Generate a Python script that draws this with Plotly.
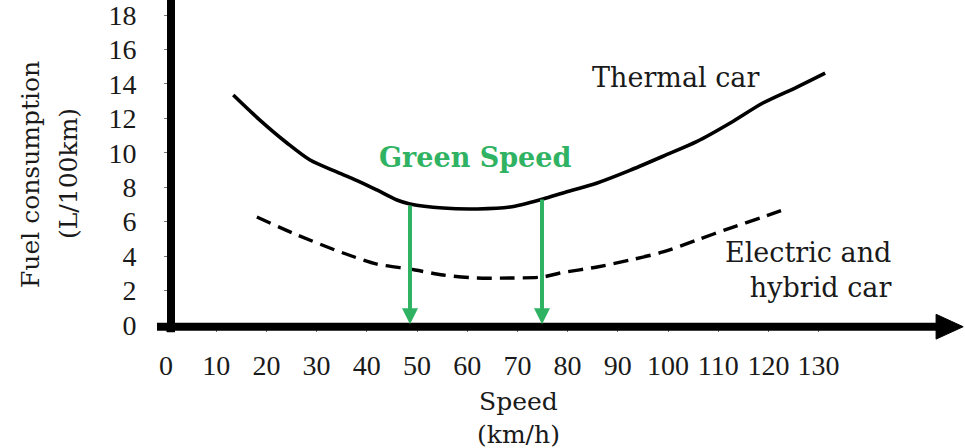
import plotly.graph_objects as go

# ---------------- data ----------------
x_ticks = [0, 10, 20, 30, 40, 50, 60, 70, 80, 90, 100, 110, 120, 130]
x_tick_labels = [str(v) for v in x_ticks]
y_ticks = [0, 2, 4, 6, 8, 10, 12, 14, 16, 18]
y_tick_labels = [str(v) for v in y_ticks]

thermal_speed = [13.4, 18.7, 24.1, 28.7, 34.1, 38.7, 42.0, 46.0, 48.6, 55.2, 62.0,
                 68.5, 75.1, 79.1, 85.9, 92.4, 99.0, 105.8, 112.4, 118.9, 125.7, 131.3]
thermal_fuel = [13.36, 11.90, 10.57, 9.58, 8.88, 8.30, 7.84, 7.26, 7.03, 6.79, 6.74,
                6.85, 7.32, 7.67, 8.25, 8.98, 9.80, 10.66, 11.73, 12.89, 13.82, 14.63]

electric_speed = [18.1, 26.1, 35.3, 42.0, 48.6, 55.2, 62.0, 68.5, 75.1, 78.5, 85.9,
                  92.4, 99.0, 105.8, 112.4, 118.9, 122.9]
electric_fuel = [6.27, 5.23, 4.18, 3.54, 3.25, 2.90, 2.73, 2.73, 2.79, 3.02, 3.37,
                 3.77, 4.24, 4.94, 5.63, 6.27, 6.68]

green_speed_bounds = [48.6, 74.9]
green_speed_tops = [7.03, 7.38]

# ---------------- styling ----------------
FONT = "DejaVu Serif"
TICK_FONT = "Liberation Serif"
INK = "#1a1a1a"
GREEN = "#2fb363"
W, H = 965, 448
X_RANGE = [-33.07, 159.16]
Y_RANGE = [-7.143, 18.873]

fig = go.Figure()

fig.add_trace(go.Scatter(
    x=thermal_speed, y=thermal_fuel, mode="lines",
    line=dict(color="black", width=3.6, shape="spline", smoothing=0.8),
    hoverinfo="skip", showlegend=False))

fig.add_trace(go.Scatter(
    x=electric_speed, y=electric_fuel, mode="lines",
    line=dict(color="black", width=3.4, shape="spline", smoothing=0.8, dash="15px,8px"),
    hoverinfo="skip", showlegend=False))

shapes = []
# y axis (thick)
shapes.append(dict(type="line", xref="paper", yref="y", x0=171 / W, x1=171 / W,
                   y0=-0.42, y1=19.5, line=dict(color="black", width=8), layer="above"))
# x axis (thick) + arrow head
shapes.append(dict(type="line", xref="x", yref="y", x0=-1.8, x1=154.0, y0=-0.1, y1=-0.1,
                   line=dict(color="black", width=8), layer="above"))
shapes.append(dict(type="path", xref="x", yref="y",
                   path="M 153.4,0.62 L 158.8,-0.1 L 153.4,-0.82 Z",
                   fillcolor="black", line=dict(color="black", width=1), layer="above"))

annotations = []
for xs, yt in zip(green_speed_bounds, green_speed_tops):
    annotations.append(dict(x=xs, y=0.05, ax=xs, ay=yt, xref="x", yref="y",
                            axref="x", ayref="y", text="", showarrow=True,
                            arrowhead=2, arrowsize=0.8, arrowwidth=4, arrowcolor=GREEN,
                            standoff=0, startstandoff=0))

annotations += [
    dict(x=84.5, y=14.4, xref="x", yref="y", text="Thermal car", showarrow=False,
         xanchor="left", yanchor="middle", font=dict(family=FONT, size=27, color=INK)),
    dict(x=61.6, y=9.7, xref="x", yref="y", text="<b>Green Speed</b>", showarrow=False,
         xanchor="center", yanchor="middle", font=dict(family=FONT, size=27, color=GREEN)),
    dict(x=144.8, y=3.22, xref="x", yref="y", text="Electric and<br>hybrid car",
         showarrow=False, xanchor="right", yanchor="middle", align="right",
         font=dict(family=FONT, size=27, color=INK)),
    dict(x=518 / W, y=(H - 418) / H, xref="paper", yref="paper", text="Speed<br>(km/h)",
         showarrow=False, xanchor="center", yanchor="middle", align="center",
         font=dict(family=FONT, size=25, color=INK)),
    dict(x=30 / W, y=(H - 175) / H, xref="paper", yref="paper", text="Fuel consumption",
         textangle=-90, showarrow=False, xanchor="center", yanchor="middle",
         font=dict(family=FONT, size=25, color=INK)),
    dict(x=69 / W, y=(H - 174) / H, xref="paper", yref="paper", text="(L/100km)",
         textangle=-90, showarrow=False, xanchor="center", yanchor="middle",
         font=dict(family=FONT, size=25, color=INK)),
]

fig.update_layout(
    width=W, height=H, autosize=False,
    margin=dict(l=0, r=0, t=0, b=0, pad=0),
    paper_bgcolor="white", plot_bgcolor="white",
    shapes=shapes, annotations=annotations, showlegend=False,
    xaxis=dict(range=X_RANGE, anchor="free", position=(H - 325) / H,
               showgrid=False, zeroline=False, showline=False,
               tickmode="array", tickvals=x_ticks, ticktext=x_tick_labels,
               ticks="outside", ticklen=6, tickwidth=1.2, tickcolor="#777",
               ticklabelstandoff=9, ticklabeloverflow="allow",
               tickfont=dict(family=TICK_FONT, size=28, color=INK), fixedrange=True),
    yaxis=dict(range=Y_RANGE, anchor="free", position=171 / W,
               showgrid=False, zeroline=False, showline=False,
               tickmode="array", tickvals=y_ticks, ticktext=y_tick_labels,
               ticks="outside", ticklen=7, tickwidth=1.2, tickcolor="#777",
               ticklabelstandoff=22, ticklabeloverflow="allow",
               tickfont=dict(family=TICK_FONT, size=28, color=INK), fixedrange=True),
)

fig.write_html("out.html", config={"displayModeBar": False},
               post_script="document.body.style.margin='0px';")
